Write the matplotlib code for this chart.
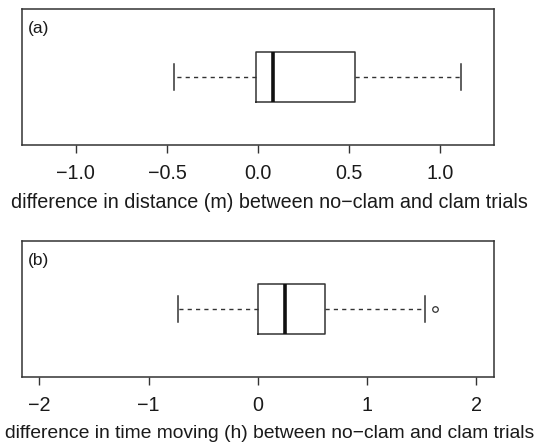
import matplotlib
matplotlib.use("Agg")
import matplotlib.pyplot as plt

plt.rcParams['font.family'] = ['Liberation Sans', 'DejaVu Sans']

# five-number summaries for each panel (whisker low, Q1, median, Q3, whisker high)
dist_stats = [-0.46, -0.013, 0.084, 0.531, 1.117]
dist_fliers = []
time_stats = [-0.731, 0.0, 0.244, 0.615, 1.532]
time_fliers = [1.62]

dist_ticks = [-1.0, -0.5, 0.0, 0.5, 1.0]
dist_ticklabels = ['\u22121.0', '\u22120.5', '0.0', '0.5', '1.0']
time_ticks = [-2, -1, 0, 1, 2]
time_ticklabels = ['\u22122', '\u22121', '0', '1', '2']

dist_label = 'difference in distance (m) between no\u2212clam and clam trials'
time_label = 'difference in time moving (h) between no\u2212clam and clam trials'

INK = '#333333'
TXT = '#1a1a1a'


def draw_panel(ax, stats, fliers, lim, ticks, ticklabels, xlabel, tag,
               label_size):
    lo, q1, med, q3, hi = stats
    box = dict(whislo=lo, q1=q1, med=med, q3=q3, whishi=hi, fliers=fliers)
    ax.bxp([box], positions=[1], widths=0.4, capwidths=0.2, vert=False,
           showfliers=True,
           boxprops=dict(color=INK, lw=1.1),
           medianprops=dict(color='#111111', lw=2.6, solid_capstyle='butt'),
           whiskerprops=dict(color=INK, lw=1.0, linestyle=(0, (3, 3))),
           capprops=dict(color=INK, lw=1.1),
           flierprops=dict(marker='o', markersize=4, markerfacecolor='none',
                           markeredgecolor=INK, markeredgewidth=0.9))
    span = lim[1] - lim[0]
    ax.set_xlim(lim[0] - 0.04 * span, lim[1] + 0.04 * span)
    ax.set_ylim(0.46, 1.54)
    ax.set_yticks([])
    ax.set_xticks(ticks)
    ax.set_xticklabels(ticklabels, fontsize=14.2, color=TXT)
    ax.tick_params(axis='x', direction='out', length=6, width=1.0,
                   color=INK, pad=8)
    ax.set_xlabel(xlabel, fontsize=label_size, color=TXT, labelpad=6)
    ax.xaxis.set_label_coords(0.525, -0.35)
    for s in ax.spines.values():
        s.set_color(INK)
        s.set_linewidth(1.1)
    ax.text(0.013, 0.86, tag, transform=ax.transAxes, fontsize=12.5,
            color=TXT, va='center', ha='left')


fig = plt.figure(figsize=(5.42, 4.44), dpi=100)
ax_a = fig.add_axes([0.0406, 0.6734, 0.8708, 0.3063])
ax_b = fig.add_axes([0.0406, 0.1509, 0.8708, 0.3063])

draw_panel(ax_a, dist_stats, dist_fliers, (-1.2, 1.2), dist_ticks,
           dist_ticklabels, dist_label, '(a)', 14.2)
draw_panel(ax_b, time_stats, time_fliers, (-2.0, 2.0), time_ticks,
           time_ticklabels, time_label, '(b)', 13.9)

fig.savefig('out.png', dpi=100, facecolor='white')
